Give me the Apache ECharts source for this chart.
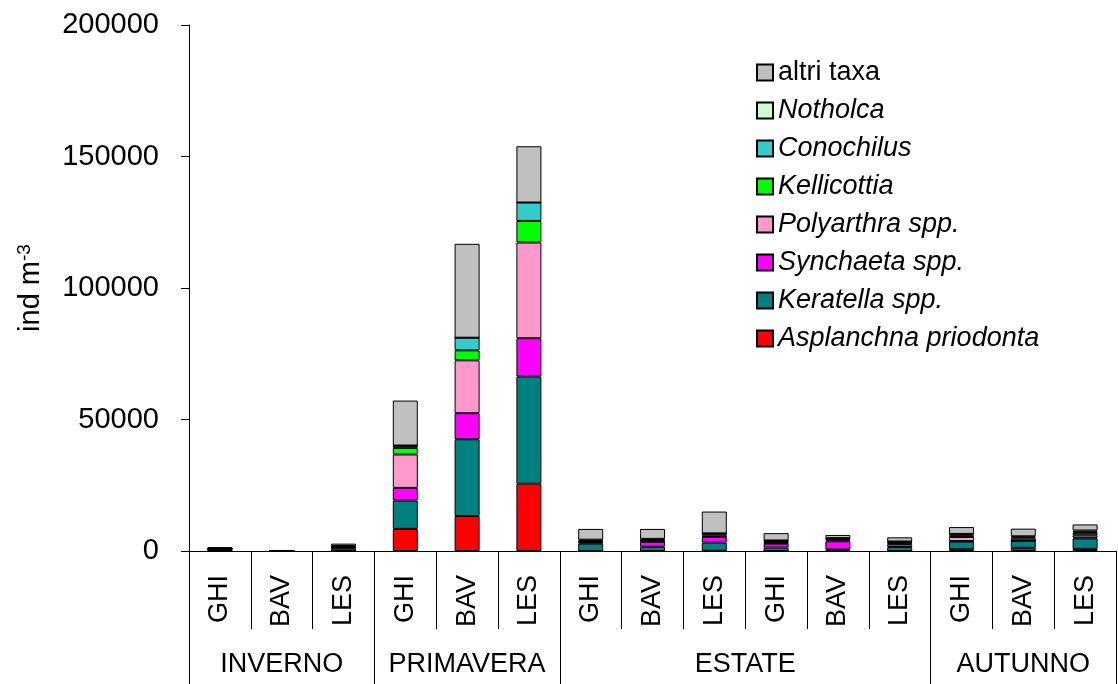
<!DOCTYPE html>
<html>
<head>
<meta charset="utf-8">
<script src="https://cdn.jsdelivr.net/npm/echarts@6/dist/echarts.min.js"></script>
<style>
  html, body { margin: 0; padding: 0; background: #fff; }
  #chart { width: 1118px; height: 684px; }
</style>
</head>
<body>
<div id="chart"></div>
<script>
const sites = ['GHI', 'BAV', 'LES', 'GHI', 'BAV', 'LES', 'GHI', 'BAV', 'LES', 'GHI', 'BAV', 'LES', 'GHI', 'BAV', 'LES'];
const seasons = ['INVERNO', 'PRIMAVERA', 'ESTATE', 'AUTUNNO'];
const season_sizes = [3, 3, 6, 3];

// ind m-3, one value per bar
const asplanchna = [0, 0, 0, 8400, 13300, 25600, 0, 0, 100, 0, 200, 0, 700, 1200, 800];
const keratella = [700, 100, 1000, 10800, 29200, 40700, 2800, 1600, 3100, 1300, 400, 1500, 2900, 2600, 4000];
const synchaeta = [100, 0, 200, 4800, 9900, 14600, 400, 1900, 2200, 1500, 3100, 1100, 200, 100, 300];
const polyarthra = [100, 0, 300, 12700, 20100, 36400, 200, 200, 200, 200, 400, 300, 1500, 100, 900];
const kellicottia = [50, 0, 100, 2500, 3800, 8200, 300, 300, 800, 600, 400, 300, 600, 800, 900];
const conochilus = [0, 0, 0, 800, 4800, 7000, 300, 300, 300, 200, 200, 200, 300, 400, 400];
const notholca = [100, 0, 300, 100, 0, 0, 300, 300, 0, 200, 200, 200, 300, 400, 500];
const altri = [400, 200, 900, 17100, 35700, 21400, 4100, 3800, 8300, 2800, 1200, 1600, 2600, 2900, 2300];

const font = 'Liberation Sans, Arial, sans-serif';

const taxa = [
    { name: 'Asplanchna priodonta', data: asplanchna, color: '#ff0000' },
    { name: 'Keratella spp.', data: keratella, color: '#008080' },
    { name: 'Synchaeta spp.', data: synchaeta, color: '#ff00ff' },
    { name: 'Polyarthra spp.', data: polyarthra, color: '#ff99cc' },
    { name: 'Kellicottia', data: kellicottia, color: '#00ff00' },
    { name: 'Conochilus', data: conochilus, color: '#33cccc' },
    { name: 'Notholca', data: notholca, color: '#ccffcc' },
    { name: 'altri taxa', data: altri, color: '#c0c0c0' }
];

// season boundaries and centres on a 0..15 scale
const bounds = [0], centres = [];
season_sizes.forEach(n => {
    const start = bounds[bounds.length - 1];
    centres.push(start + n / 2);
    bounds.push(start + n);
});

const chart = echarts.init(document.getElementById('chart'));

const option = {
    animation: false,
    textStyle: { fontFamily: font, color: '#000' },
    grid: { left: 189, right: 2, top: 25, bottom: 133 },
    legend: {
        orient: 'vertical',
        left: 756,
        top: 58,
        padding: 0,
        itemWidth: 16,
        itemHeight: 16,
        itemGap: 9,
        icon: 'rect',
        data: taxa.map(t => t.name).reverse(),
        formatter: name => name === 'altri taxa' ? name : `{i|${name}}`,
        textStyle: {
            fontSize: 27,
            lineHeight: 29,
            color: '#000',
            fontFamily: font,
            rich: { i: { fontStyle: 'italic', fontSize: 27, lineHeight: 29, fontFamily: font, color: '#000' } }
        }
    },
    xAxis: [
        {
            type: 'category',
            data: sites,
            position: 'bottom',
            axisLine: { show: true, lineStyle: { color: '#000', width: 1 } },
            axisTick: { show: true, length: 78, alignWithLabel: false, interval: 0, lineStyle: { color: '#000', width: 1 } },
            axisLabel: { rotate: 90, fontSize: 27, margin: 24, color: '#000', fontFamily: font, interval: 0 }
        },
        {
            type: 'value',
            min: 0,
            max: sites.length,
            position: 'bottom',
            axisLine: { show: false },
            splitLine: { show: false },
            axisTick: { show: true, customValues: bounds, length: 133, lineStyle: { color: '#000' } },
            axisLabel: {
                customValues: centres,
                formatter: v => seasons[centres.indexOf(v)] ?? '',
                fontSize: 27,
                margin: 100,
                color: '#000',
                fontFamily: font
            }
        }
    ],
    yAxis: {
        type: 'value',
        min: 0,
        max: 200000,
        interval: 50000,
        name: '{a|ind m}{b|-3}',
        nameLocation: 'middle',
        nameRotate: 90,
        nameGap: 143,
        nameTextStyle: {
            rich: {
                a: { fontSize: 29, lineHeight: 31, fontFamily: font, color: '#000' },
                b: { fontSize: 19, lineHeight: 31, verticalAlign: 'top', fontFamily: font, color: '#000' }
            }
        },
        axisLine: { show: true, lineStyle: { color: '#000', width: 1 } },
        axisTick: { show: true, length: 8, lineStyle: { color: '#000' } },
        splitLine: { show: false },
        axisLabel: { fontSize: 29, margin: 30, color: '#000', fontFamily: font, formatter: v => String(v) }
    },
    series: taxa.map(t => ({
        name: t.name,
        type: 'bar',
        stack: 'total',
        data: t.data,
        barWidth: 25,
        itemStyle: { color: t.color, borderColor: '#000', borderWidth: 1 }
    }))
};

chart.setOption(option);
</script>
</body>
</html>
